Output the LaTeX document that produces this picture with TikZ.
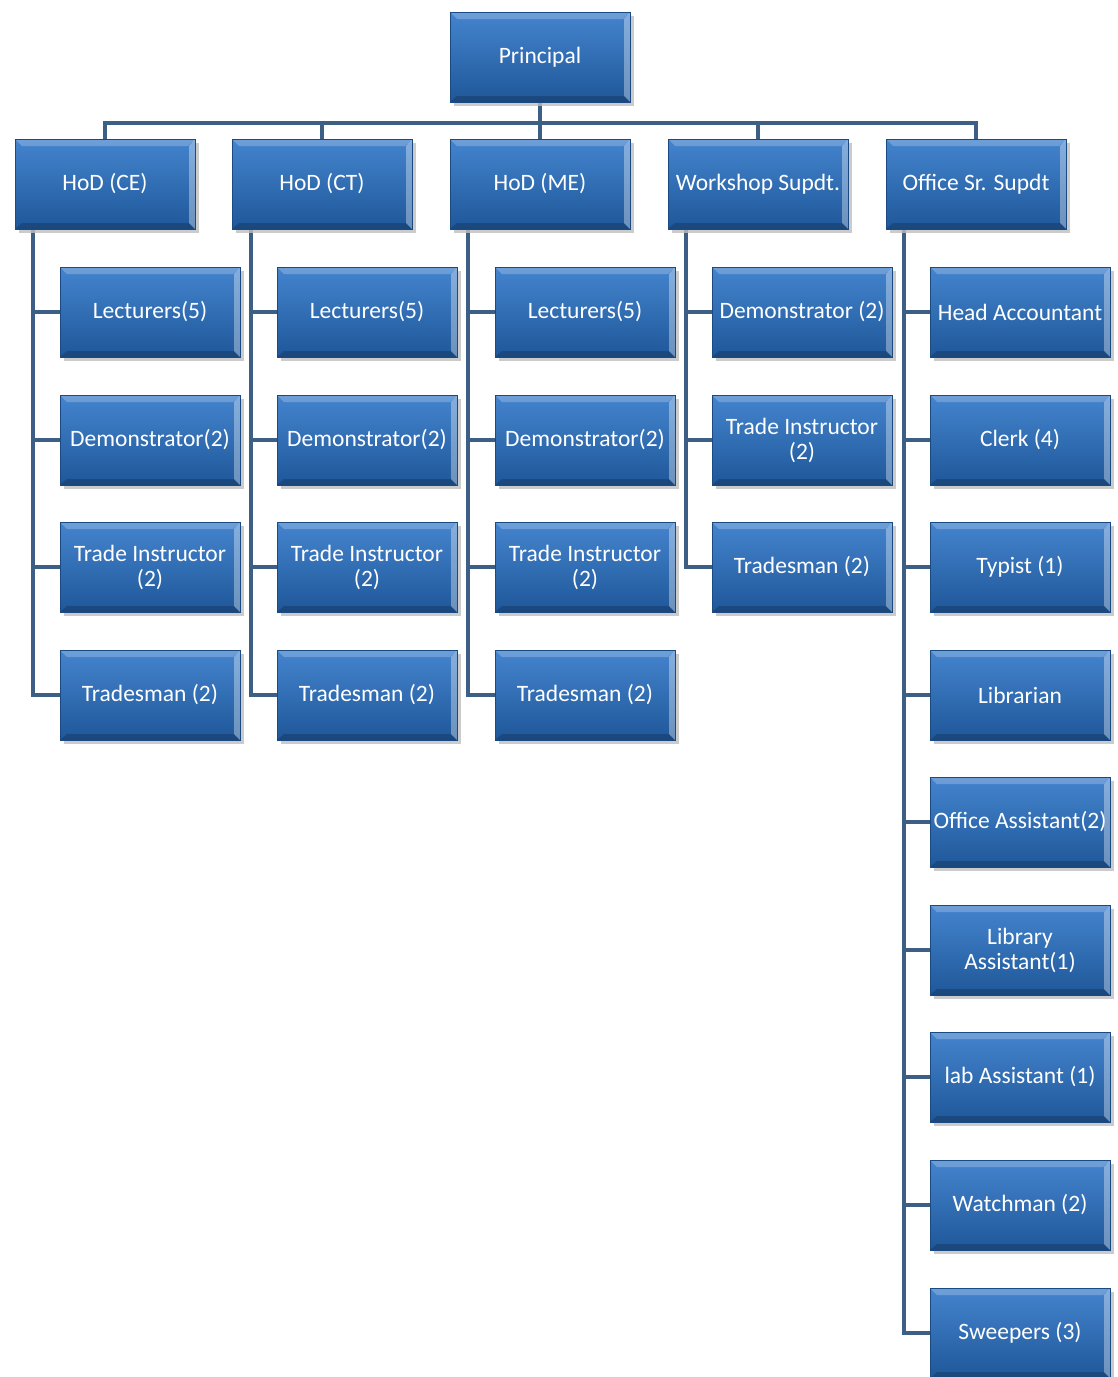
\documentclass[tikz,border=0pt]{standalone}
\usepackage{fontspec}
\setmainfont{Carlito}
\usetikzlibrary{shadows,backgrounds}
\definecolor{boxtop}{HTML}{4484CE}
\definecolor{boxbot}{HTML}{1F5799}
\definecolor{boxedge}{HTML}{1B4A82}
\definecolor{linec}{HTML}{3D5F86}
\tikzset{
  orgbox/.style={draw=boxedge, line width=1pt, top color=boxtop, bottom color=boxbot,
    minimum width=180pt, minimum height=90pt, inner sep=1pt, align=center,
    text=white, font=\fontsize{23.5}{25}\selectfont,
    drop shadow={shadow xshift=4pt, shadow yshift=-4pt, fill=black!25, opacity=0.8},
    path picture={
      \fill[white,opacity=0.22] (path picture bounding box.north west) -- (path picture bounding box.north east)
        -- ([xshift=-7pt,yshift=-7pt]path picture bounding box.north east) -- ([xshift=7pt,yshift=-7pt]path picture bounding box.north west) -- cycle;
      \fill[white,opacity=0.35] (path picture bounding box.north east) -- (path picture bounding box.south east)
        -- ([xshift=-6pt,yshift=6pt]path picture bounding box.south east) -- ([xshift=-6pt,yshift=-7pt]path picture bounding box.north east) -- cycle;
      \fill[black,opacity=0.18] (path picture bounding box.south west) -- (path picture bounding box.south east)
        -- ([xshift=-6pt,yshift=6pt]path picture bounding box.south east) -- ([xshift=7pt,yshift=6pt]path picture bounding box.south west) -- cycle;
    }},
  conn/.style={draw=linec, line width=4pt}
}
\begin{document}
\begin{tikzpicture}[x=1pt,y=-1pt]
\useasboundingbox (0,0) rectangle (1118,1377);
% top
\node[orgbox] (P) at (540,57) {Principal};
\node[orgbox] (h1) at (105,184) {HoD (CE)};
\node[orgbox] (h2) at (322,184) {HoD (CT)};
\node[orgbox] (h3) at (540,184) {HoD (ME)};
\node[orgbox] (h4) at (758,184) {Workshop Supdt.};
\node[orgbox] (h5) at (976,184) {Office Sr. Supdt};
\coordinate (bus) at (540,123);
% CE
\node[orgbox] (a1) at (150,312) {Lecturers(5)};
\node[orgbox] (a2) at (150,440) {Demonstrator(2)};
\node[orgbox] (a3) at (150,567) {Trade Instructor\\(2)};
\node[orgbox] (a4) at (150,695) {Tradesman (2)};
% CT
\node[orgbox] (b1) at (367,312) {Lecturers(5)};
\node[orgbox] (b2) at (367,440) {Demonstrator(2)};
\node[orgbox] (b3) at (367,567) {Trade Instructor\\(2)};
\node[orgbox] (b4) at (367,695) {Tradesman (2)};
% ME
\node[orgbox] (c1) at (585,312) {Lecturers(5)};
\node[orgbox] (c2) at (585,440) {Demonstrator(2)};
\node[orgbox] (c3) at (585,567) {Trade Instructor\\(2)};
\node[orgbox] (c4) at (585,695) {Tradesman (2)};
% Workshop
\node[orgbox] (d1) at (802,312) {Demonstrator (2)};
\node[orgbox] (d2) at (802,440) {Trade Instructor\\(2)};
\node[orgbox] (d3) at (802,567) {Tradesman (2)};
% Office
\node[orgbox] (e1) at (1020,312) {Head Accountant};
\node[orgbox] (e2) at (1020,440) {Clerk (4)};
\node[orgbox] (e3) at (1020,567) {Typist (1)};
\node[orgbox] (e4) at (1020,695) {Librarian};
\node[orgbox] (e5) at (1020,822) {Office Assistant(2)};
\node[orgbox] (e6) at (1020,950) {Library\\Assistant(1)};
\node[orgbox] (e7) at (1020,1077) {lab Assistant (1)};
\node[orgbox] (e8) at (1020,1205) {Watchman (2)};
\node[orgbox] (e9) at (1020,1333) {Sweepers (3)};
% spines
\coordinate (s1) at (33,229);
\coordinate (s2) at (251,229);
\coordinate (s3) at (468,229);
\coordinate (s4) at (686,229);
\coordinate (s5) at (904,229);
\begin{scope}[on background layer]
\fill[white] (0,0) rectangle (1118,1377);
\draw[conn] (P.south) -- (bus);
\foreach \h in {h1,h2,h3,h4,h5} \draw[conn] (\h.north) |- (bus);
\foreach \c in {a1,a2,a3,a4} \draw[conn] (s1) |- (\c.west);
\foreach \c in {b1,b2,b3,b4} \draw[conn] (s2) |- (\c.west);
\foreach \c in {c1,c2,c3,c4} \draw[conn] (s3) |- (\c.west);
\foreach \c in {d1,d2,d3} \draw[conn] (s4) |- (\c.west);
\foreach \c in {e1,e2,e3,e4,e5,e6,e7,e8,e9} \draw[conn] (s5) |- (\c.west);
\end{scope}
\end{tikzpicture}
\end{document}
